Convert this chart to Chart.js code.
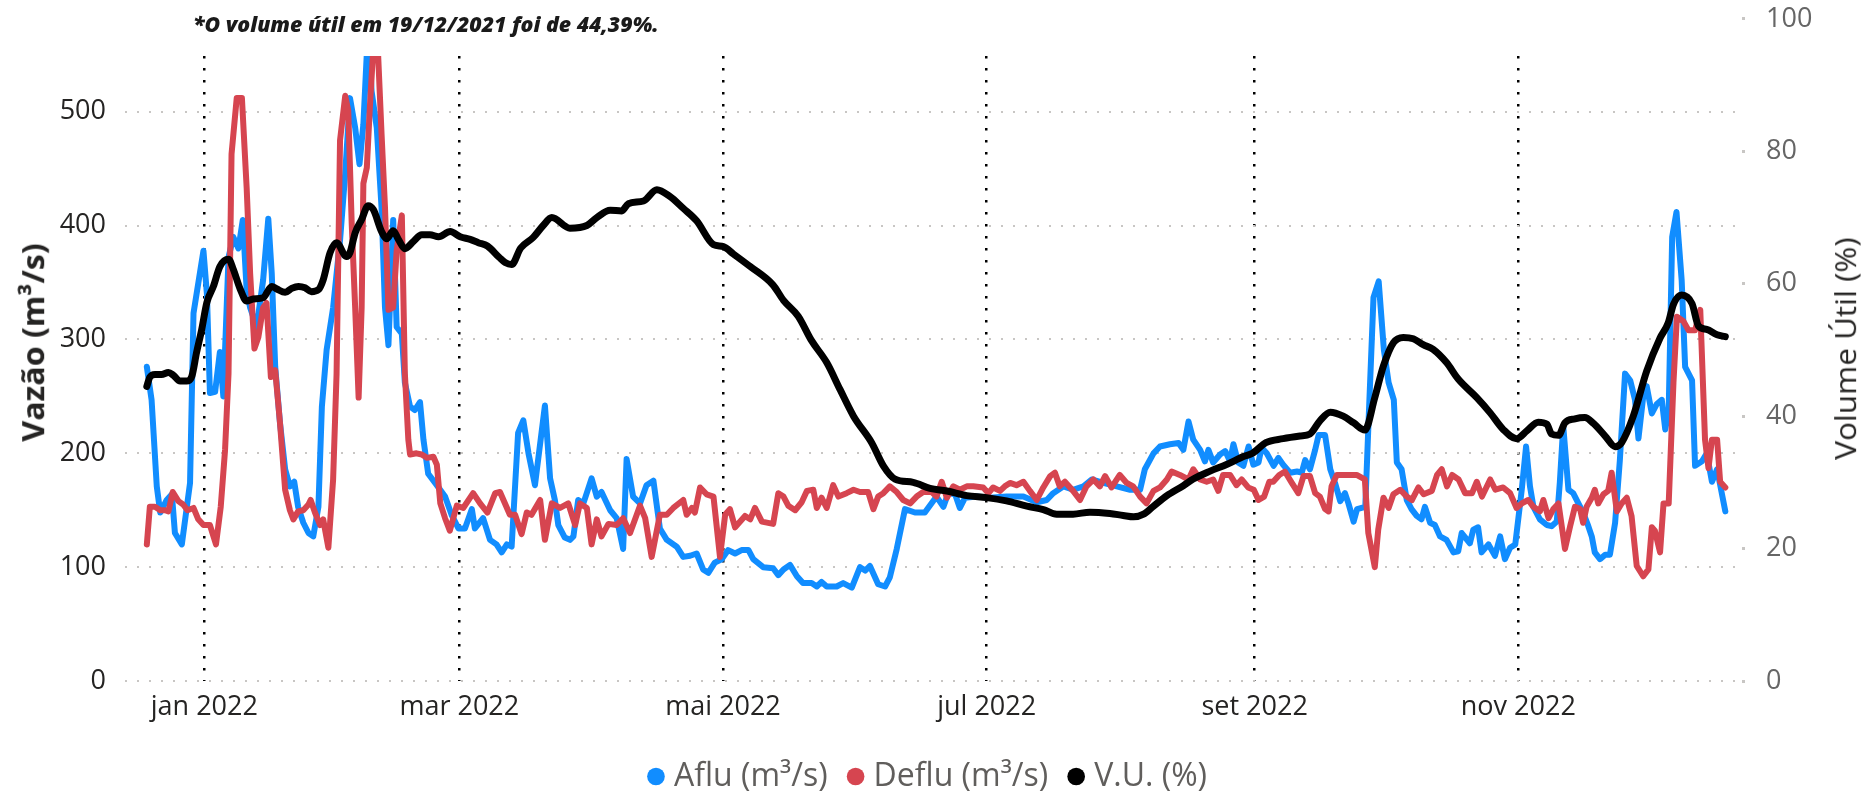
<!DOCTYPE html>
<html><head><meta charset="utf-8">
<script src="https://cdn.jsdelivr.net/npm/chart.js@4.4.1/dist/chart.umd.min.js"></script>
<style>
html,body{margin:0;padding:0;background:#fff;}
#wrap{position:relative;width:1861px;height:792px;overflow:hidden;background:#fff;}
canvas{position:absolute;left:0;top:0;}
.ovl{position:absolute;left:0;top:0;white-space:nowrap;line-height:1;font-family:'Open Sans',sans-serif;color:#252423;transform-origin:50% 50%;}
</style></head><body>
<div id="wrap">
<canvas id="chart" width="1861" height="792"></canvas>
<div id="note" class="ovl" style="font-weight:800;font-style:italic;font-size:21px;color:#1a1a1a;">*O volume útil em 19/12/2021 foi de 44,39%.</div>
<div id="yTitle" class="ovl" style="font-weight:700;font-size:31px;">Vazão (m³/s)</div>
<div id="y1Title" class="ovl" style="font-size:29px;">Volume Útil (%)</div>
</div>
<script>
// ---- data (x = days from 1 jan 2022) ----
const seriesNames = ['Aflu (m³/s)', 'Deflu (m³/s)', 'V.U. (%)'];
const tickDays = [0, 59, 120, 181, 243, 304];
const tickLabels = ['jan 2022', 'mar 2022', 'mai 2022', 'jul 2022', 'set 2022', 'nov 2022'];

const afluDays = [-13.3,-12.2,-11,-10.2,-8.7,-7.5,-6.8,-5.2,-3.3,-2.5,-0.2,0.6,1.3,2.5,3.6,4.4,5.6,6.7,7.9,8.9,9.8,10.6,12.1,13.6,14.8,15.6,16.4,17.5,18.7,19.8,20.8,21.7,22.9,24.1,25.2,26.4,27.2,28.3,29.8,31.4,32.6,33.7,34.9,35.9,36.8,37.9,38.7,39.9,41,41.8,42.6,43.7,44.5,45.7,46.4,47.6,48.7,49.9,50.7,51.8,53.4,55.7,57.2,58.8,60.3,61.9,62.6,64.5,66.1,67.6,68.8,70,71.1,72.6,73.8,75,76.5,78.8,80,81.1,81.9,83.4,84.6,85.4,86.5,87.7,89.6,90.8,91.9,93.9,95.4,96.9,97.7,99.2,100.8,102.3,103.9,105.4,107,109.3,110.8,112.4,113.9,115.4,116.6,118.1,119.7,121.2,122.8,124.3,125.9,127,129.3,131.6,132.8,134,135.5,137.1,138.5,140.5,141.7,142.8,144,146.3,147.8,149.8,151.7,152.9,154,155.9,157.5,158.6,160.2,162.1,164.4,166.7,169.4,171,172.1,173.7,174.8,176,178.7,181.8,185.6,189.5,192.6,194.9,196.4,198.8,201,203.4,205.3,208,211.1,214.2,216.5,217.6,219.6,221.1,223.4,225.4,226.5,227.7,228.8,230.4,231.5,232.3,233.4,235,236.2,237.3,238.1,239.2,240.4,241.6,242.7,243.9,244.6,245.8,247.4,248.5,249.6,251.2,252.8,253.9,254.7,255.8,257,257.8,259.3,260.5,261.6,262.8,263.9,264.7,265.9,266.7,268.6,269.4,270.5,271.7,272.9,274,275.2,275.9,277,278.2,279.3,280.5,281.6,282.4,283.6,284.7,285.9,287.4,289,290.1,290.9,292.8,293.6,294.7,295.5,297.1,298.6,299.8,300.9,302.1,303.3,304.8,305.8,306.7,307.5,309,310.6,311.7,312.9,313.6,314.4,315.6,316.7,317.9,319,320.2,321,321.7,322.9,324.1,325.2,326.4,327.5,328.7,329.9,331,331.8,333,333.7,334.9,336,337.2,338,338.8,339.6,340.6,341.8,342.6,344.2,344.9,346.5,347.6,348.8,350,351.9];
const afluValues = [276,247,171,148,159,164,130,120,174,323,378,340,253,254,289,250,372,390,380,405,343,328,311,352,406,358,276,227,186,171,175,153,139,130,127,153,241,291,328,387,446,512,486,454,489,575,518,486,416,328,295,405,311,305,262,241,238,245,212,182,174,162,146,134,134,151,134,143,124,120,113,120,118,218,229,200,172,242,178,159,137,126,124,127,159,156,178,162,166,150,143,116,195,162,156,172,176,134,124,118,109,110,112,98,95,104,107,115,112,115,115,107,100,99,93,98,102,92,86,86,83,87,83,83,86,82,100,97,101,85,83,91,116,151,148,148,162,153,165,164,152,161,162,161,162,162,157,159,165,171,168,171,177,174,171,168,168,186,200,206,208,209,203,228,212,203,193,203,192,199,202,193,208,192,189,206,190,192,205,200,189,196,190,183,184,183,194,186,203,216,216,186,174,158,165,156,140,151,153,232,337,351,291,262,247,192,186,159,151,145,142,153,139,137,127,124,113,114,130,121,133,135,113,120,110,127,107,117,120,168,206,171,153,142,137,136,140,174,224,168,165,156,148,136,127,113,107,111,111,139,194,270,264,247,213,253,259,235,243,247,221,238,390,412,352,276,264,189,193,200,175,186,149];

const defluDays = [-13.3,-12.6,-11.4,-10.2,-9.1,-8.3,-7.3,-6,-4.9,-3.9,-2.5,-1.4,-0.2,1.3,2.7,3.8,4.8,5.6,6.3,7.5,8.7,9.8,10.6,11.6,12.5,13.6,14.4,15.4,16.4,17.5,18.7,19.8,20.6,21.7,22.9,24.1,24.6,25.6,26.8,27.5,28.7,29.8,30.6,31.4,32.6,33.3,34.1,34.9,35.7,36.4,36.8,37.6,38.3,39.7,41,41.8,42.6,43.7,44.5,45.7,46.4,47.2,47.6,49.1,50.3,51.5,53,53.8,54.6,55.7,56.8,58.4,59.9,62.2,63.8,65.5,67.3,68.4,70.7,71.9,73.4,74.6,75.7,77.7,78.8,80.4,82.3,84.2,85.8,86.9,88.5,89.6,90.8,91.9,93.5,95.4,96.9,98.5,100.8,102,103.5,105.4,107,108.5,110.8,111.6,112.8,113.5,114.7,116.2,117.8,119.3,120.5,121.6,122.8,125.1,126.3,127.4,129,131.6,132.8,134,135.1,136.7,138.2,139.4,140.9,141.7,142.8,144,145.5,146.7,148.6,150.2,151.7,153.6,154.8,155.9,157.1,158.6,160.2,161.7,163.3,164.8,166.3,168.3,169.4,170.6,171.8,173.3,174.8,176.4,177.9,180.2,181.4,182.5,184.1,185.2,186.4,187.9,189.5,191,192.6,194.1,195.7,196.8,197.9,199.1,201,202.6,204.1,205.7,207.2,208.4,209.9,211.8,213.4,214.9,216.5,218,219.6,221.1,222.7,223.8,225.7,227.7,228.8,230.4,231.9,233.4,234.6,235.7,237.3,238.8,240,241.5,242.8,243.9,245.2,246.4,247.3,248.7,250,251.6,253.1,254.3,255.8,257,258.1,259.3,260.1,260.8,262,265.1,266.6,268.5,269.3,270.8,271.6,272.8,274,275.1,276.7,278.2,279.4,280.9,282.1,284,285.2,286.3,287.5,288.7,290.2,291.7,293.3,294.4,295.6,297.5,298.7,300.5,302.1,303.6,304.8,306.3,307.5,309,309.8,311,312.1,313.3,314.8,316,317.1,318.3,319,319.8,321,321.7,322.5,323.7,324.8,325.6,326.8,327.9,329.1,330.2,331.4,332.9,334.1,334.9,335.6,336.8,337.6,338.8,339.9,340.7,342.2,343.4,344.9,346.1,347.2,348,348.8,350,350.7,351.9];
const defluValues = [120,153,153,150,150,149,166,158,155,150,152,142,137,137,120,153,203,270,463,512,512,433,358,292,302,328,332,267,273,227,168,150,142,149,150,155,159,148,137,142,117,177,270,475,514,501,402,328,249,328,437,451,504,595,481,416,326,328,378,409,270,212,199,200,199,196,197,190,156,143,132,154,152,165,156,148,165,166,146,146,129,148,146,159,124,156,152,156,137,156,152,120,142,127,138,137,143,130,154,143,109,146,146,152,159,146,152,148,170,164,162,109,146,151,135,145,142,152,140,138,165,162,154,150,157,167,168,152,161,152,172,162,165,168,166,166,151,162,165,171,166,159,156,162,166,166,162,175,161,171,168,171,171,170,165,170,167,171,174,172,175,167,159,170,180,183,171,175,167,159,171,177,171,180,170,181,174,171,162,156,167,170,177,184,181,177,186,177,175,177,167,181,181,172,177,170,168,159,162,175,175,181,184,174,165,180,180,165,162,151,149,171,181,181,181,177,130,100,133,161,152,164,168,162,159,170,164,167,181,186,171,181,177,165,165,175,162,177,168,170,165,152,156,159,153,149,159,143,151,156,116,136,153,151,139,153,161,168,156,164,167,183,149,156,161,145,101,92,98,135,132,113,156,156,262,320,316,308,308,326,212,187,212,212,175,170];

const vuDays = [-13.3,-12.6,-11.4,-9.9,-8.3,-7.2,-5.6,-4.1,-2.9,-1.8,-0.6,0.6,2.1,3.6,5.6,6.7,8.3,9.8,11.3,13.6,15.6,16.8,18.7,20.2,21.8,23.3,24.8,26.4,27.5,29.1,30.6,32.9,33.7,34.9,36.4,37.9,39.1,41,42.2,43.7,44.9,46.4,48.4,50.3,52.2,54.2,56.9,59.2,61.5,63.4,65.5,68.2,69.6,71.1,73.2,76.1,78.4,80.4,84.6,88.5,90.8,93.9,96.6,98.1,101.6,104.7,107.7,110.8,113.9,117.8,120.1,122.4,126.3,131.6,134,137.4,140.5,144,147.1,150.2,154.4,157.1,159.8,164,167.9,171.8,176.4,181,185.6,190.3,194.1,197.2,201,204.9,209.5,212.6,215,217.3,219.6,222.7,226.5,228.8,232.7,236.5,240.4,242.5,245.6,249.6,253.5,255.8,258.1,260.5,263.5,265.9,268.5,270.8,272.8,275.1,277.4,279.7,282,284.3,287.4,290.1,294.4,297.5,300.5,303.6,306,308.6,310.6,311.7,313.3,314.8,317.1,319.4,321.4,324.1,326.4,327.9,330.6,333.7,336.8,338.7,339.9,341.8,344.2,345.7,347.6,350,351.9];
const vuValues = [44.5,45.9,46.3,46.3,46.6,46.2,45.3,45.3,46.0,49.6,53.1,57.2,59.6,62.6,63.7,62.2,59.2,57.4,57.7,57.9,59.6,59.2,58.7,59.3,59.6,59.4,58.8,59.1,60.6,64.7,66.2,64.1,64.7,67.7,69.7,71.8,71.2,67.9,66.8,68.0,66.7,65.3,66.4,67.4,67.4,67.1,67.9,67.1,66.7,66.2,65.7,64.0,63.2,62.9,65.4,67.0,68.8,70.0,68.4,68.8,70.0,71.1,71.0,72.1,72.5,74.2,73.2,71.4,69.5,65.9,65.6,64.5,62.6,59.8,57.5,55.1,51.4,48.1,44.0,40.0,36.0,32.5,30.5,30.0,29.1,28.7,28.0,27.7,27.2,26.4,25.9,25.2,25.2,25.5,25.3,25.0,24.8,25.2,26.4,28.0,29.5,30.5,31.7,32.7,33.9,34.4,36.0,36.6,37.0,37.3,39.3,40.6,40.0,39.0,37.9,42.8,47.6,51.1,51.9,51.7,50.8,50.1,48.1,45.6,42.8,40.5,38.0,36.6,37.8,39.1,38.8,37.3,37.1,39.0,39.6,39.8,38.9,37.0,35.4,36.0,40.0,46.8,51.8,54.1,56.9,58.3,57.0,53.6,53.1,52.3,52.0];

// ---- chart ----
Chart.defaults.font.family = "'Open Sans', sans-serif";
const toPoints = (xs, ys) => xs.map((x, i) => ({x: x, y: ys[i]}));
const setTicks = vals => axis => { axis.ticks = vals.map(v => ({value: v})); };

const chart = new Chart(document.getElementById('chart'), {
  type: 'line',
  data: {
    datasets: [
      { label: seriesNames[0], data: toPoints(afluDays, afluValues), yAxisID: 'y',
        borderColor: '#118DFF', backgroundColor: '#118DFF', pointBackgroundColor: '#118DFF',
        borderWidth: 6, order: 2, clip: 0, tension: 0 },
      { label: seriesNames[1], data: toPoints(defluDays, defluValues), yAxisID: 'y',
        borderColor: '#D64550', backgroundColor: '#D64550', pointBackgroundColor: '#D64550',
        borderWidth: 6, order: 1, clip: 0, tension: 0 },
      { label: seriesNames[2], data: toPoints(vuDays, vuValues), yAxisID: 'y1',
        borderColor: '#000000', backgroundColor: '#000000', pointBackgroundColor: '#000000',
        borderWidth: 7, order: 0, clip: 0, cubicInterpolationMode: 'monotone' }
    ]
  },
  options: {
    responsive: false,
    animation: false,
    devicePixelRatio: 1,
    layout: { padding: { top: 56, left: 0, right: 0, bottom: -10.5 } },
    elements: {
      point: { radius: 0, hoverRadius: 0 },
      line: { borderJoinStyle: 'round', borderCapStyle: 'round' }
    },
    plugins: {
      tooltip: { enabled: false },
      legend: {
        position: 'bottom',
        labels: {
          usePointStyle: true, pointStyle: 'circle',
          boxWidth: 4, boxHeight: 12.5, padding: 26,
          color: '#605E5C', font: { size: 32 },
          sort: (a, b) => a.datasetIndex - b.datasetIndex,
          generateLabels: c => Chart.defaults.plugins.legend.labels.generateLabels(c)
            .map(l => Object.assign(l, { lineWidth: 0 }))
        }
      }
    },
    scales: {
      x: {
        type: 'linear', min: -18.35, max: 354.6,
        afterBuildTicks: setTicks(tickDays),
        afterFit: s => { s.height = 53.5; },
        ticks: {
          callback: v => { const i = tickDays.indexOf(v); return i >= 0 ? tickLabels[i] : ''; },
          font: { size: 27 }, color: '#252423', padding: 10, maxRotation: 0, autoSkip: false
        },
        grid: { color: '#000000', lineWidth: 2.5, drawTicks: false },
        border: { display: false, dash: [2.5, 9.5] }
      },
      y: {
        position: 'left', min: 0, max: 549,
        afterBuildTicks: setTicks([0, 100, 200, 300, 400, 500]),
        afterFit: s => { s.width = 125; },
        ticks: { font: { size: 27 }, color: '#252423', padding: 19 },
        grid: { color: '#C8C6C4', lineWidth: 2, drawTicks: false },
        border: { display: false, dash: [2, 10] }
      },
      y1: {
        position: 'right', min: 0, max: 94.4,
        afterBuildTicks: setTicks([0, 20, 40, 60, 80, 100]),
        afterFit: s => { s.width = 124; },
        ticks: { font: { size: 27 }, color: '#666666', padding: 21 },
        grid: { drawOnChartArea: false, drawTicks: true, tickLength: 8,
                tickColor: '#C8C6C4', tickWidth: 3, tickBorderDash: [0, 5, 3, 50] },
        border: { display: false }
      }
    }
  }
});

// ---- text overlays ----
function place(id, cx, cy, len, angle) {
  const el = document.getElementById(id);
  const w = el.offsetWidth, h = el.offsetHeight;
  const s = Math.min(1.2, Math.max(0.8, len / w));
  el.style.left = (cx - w / 2) + 'px';
  el.style.top = (cy - h / 2) + 'px';
  el.style.transform = 'rotate(' + angle + 'deg) scaleX(' + s + ')';
}
place('note', 426, 24, 466, 0);
place('yTitle', 32, 342, 198, -90);
place('y1Title', 1844, 348, 222, -90);
</script>
</body></html>
